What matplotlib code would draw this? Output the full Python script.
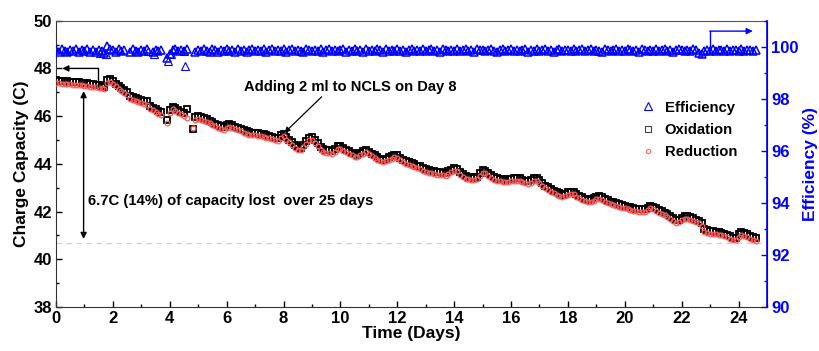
import numpy as np
import matplotlib
matplotlib.use("Agg")
import matplotlib.pyplot as plt
from matplotlib.lines import Line2D
from matplotlib.ticker import MultipleLocator

plt.rcParams['font.family'] = ['Liberation Sans', 'DejaVu Sans']
plt.rcParams['font.weight'] = 'bold'

nan = np.nan

# Sampling times (days), one reading every 0.1 day
days = np.round(np.arange(0, 247) * 0.1, 1)

reduction = [
    47.38, 47.37, 47.36, 47.36, 47.35, 47.33, 47.32, 47.31, 47.30, 47.29,
    47.27, 47.26, 47.24, 47.23, 47.21, 47.18, 47.16, 47.12, 47.40, 47.45,
    47.35, 47.25, 47.15, 47.05, 46.97, 46.90, 46.72, 46.68, 46.64, 46.60,
    46.56, 46.52, 46.45, 46.32, 46.25, 46.18, 46.10, 46.05, nan, 45.72,
    46.15, 46.28, 46.22, 46.15, 46.08, 46.00, 45.93, nan, 45.50, 45.85,
    45.88, 45.84, 45.80, 45.75, 45.70, 45.64, 45.58, 45.52, 45.47, 45.43,
    45.50, 45.55, 45.50, 45.44, 45.40, 45.36, 45.30, 45.25, 45.21, 45.20,
    45.19, 45.18, 45.16, 45.14, 45.10, 45.07, 45.03, 44.99, 44.96, 45.08,
    45.15, 45.02, 44.90, 44.79, 44.68, 44.60, 44.57, 44.70, 44.85, 44.98,
    45.00, 44.88, 44.75, 44.60, 44.50, 44.47, 44.45, 44.43, 44.50, 44.62,
    44.63, 44.55, 44.48, 44.42, 44.36, 44.30, 44.28, 44.35, 44.43, 44.48,
    44.40, 44.32, 44.24, 44.17, 44.10, 44.07, 44.10, 44.16, 44.22, 44.27,
    44.25, 44.15, 44.06, 44.00, 43.97, 43.93, 43.88, 43.82, 43.78, 43.72,
    43.67, 43.62, 43.60, 43.58, 43.55, 43.53, 43.52, 43.51, 43.57, 43.64,
    43.70, 43.68, 43.55, 43.45, 43.38, 43.35, 43.33, 43.31, 43.35, 43.48,
    43.62, 43.60, 43.50, 43.41, 43.33, 43.29, 43.27, 43.25, 43.23, 43.25,
    43.27, 43.29, 43.30, 43.28, 43.23, 43.19, 43.16, 43.20, 43.27, 43.29,
    43.20, 43.08, 42.98, 42.90, 42.83, 42.77, 42.71, 42.65, 42.60, 42.64,
    42.69, 42.73, 42.72, 42.63, 42.55, 42.48, 42.43, 42.39, 42.41, 42.46,
    42.51, 42.53, 42.48, 42.42, 42.36, 42.31, 42.27, 42.24, 42.20, 42.16,
    42.13, 42.10, 42.07, 42.03, 42.01, 42.00, 41.99, 41.98, 42.05, 42.13,
    42.10, 42.03, 41.96, 41.90, 41.85, 41.78, 41.69, 41.60, 41.52, 41.55,
    41.63, 41.69, 41.70, 41.65, 41.60, 41.55, 41.50, 41.38, 41.15, 41.10,
    41.08, 41.07, 41.05, 41.03, 41.00, 40.96, 40.92, 40.86, 40.80, 40.79,
    40.95, 41.02, 40.98, 40.93, 40.87, 40.82, 40.78,
]

oxidation = [
    47.50, 47.49, 47.48, 47.47, 47.46, 47.45, 47.44, 47.43, 47.41, 47.40,
    47.38, 47.37, 47.35, 47.34, 47.32, 47.29, 47.27, 47.24, 47.52, 47.56,
    47.46, 47.36, 47.26, 47.16, 47.08, 47.01, 46.83, 46.79, 46.75, 46.71,
    46.67, 46.63, 46.62, 46.43, 46.36, 46.29, 46.21, 46.16, nan, 45.84,
    46.26, 46.39, 46.33, 46.26, 46.19, 46.12, 46.30, nan, 45.48, 45.96,
    45.99, 45.95, 45.91, 45.86, 45.81, 45.75, 45.69, 45.63, 45.58, 45.54,
    45.61, 45.66, 45.61, 45.55, 45.51, 45.47, 45.41, 45.36, 45.32, 45.31,
    45.30, 45.29, 45.27, 45.25, 45.21, 45.18, 45.14, 45.10, 45.07, 45.19,
    45.27, 45.13, 45.01, 44.90, 44.79, 44.71, 44.68, 44.81, 44.96, 45.10,
    45.12, 44.99, 44.86, 44.71, 44.61, 44.58, 44.56, 44.54, 44.61, 44.73,
    44.75, 44.66, 44.59, 44.53, 44.47, 44.41, 44.39, 44.46, 44.54, 44.60,
    44.51, 44.43, 44.35, 44.28, 44.21, 44.18, 44.21, 44.27, 44.33, 44.39,
    44.36, 44.26, 44.17, 44.11, 44.08, 44.04, 43.99, 43.93, 43.89, 43.83,
    43.78, 43.73, 43.71, 43.69, 43.66, 43.64, 43.63, 43.62, 43.68, 43.76,
    43.82, 43.79, 43.66, 43.56, 43.49, 43.46, 43.44, 43.42, 43.46, 43.60,
    43.74, 43.71, 43.61, 43.52, 43.44, 43.40, 43.38, 43.36, 43.34, 43.36,
    43.38, 43.40, 43.41, 43.39, 43.34, 43.30, 43.27, 43.31, 43.39, 43.40,
    43.31, 43.19, 43.09, 43.01, 42.94, 42.88, 42.82, 42.76, 42.71, 42.75,
    42.81, 42.84, 42.83, 42.74, 42.66, 42.59, 42.54, 42.50, 42.52, 42.57,
    42.62, 42.64, 42.59, 42.53, 42.47, 42.42, 42.38, 42.35, 42.31, 42.27,
    42.24, 42.21, 42.18, 42.14, 42.12, 42.11, 42.10, 42.09, 42.16, 42.25,
    42.21, 42.14, 42.07, 42.01, 41.96, 41.89, 41.80, 41.71, 41.63, 41.66,
    41.74, 41.80, 41.81, 41.76, 41.71, 41.66, 41.61, 41.50, 41.26, 41.21,
    41.19, 41.18, 41.16, 41.14, 41.11, 41.07, 41.03, 40.97, 40.91, 40.90,
    41.06, 41.13, 41.09, 41.04, 40.98, 40.93, 40.88,
]

efficiency = [
    99.86, 99.81, 99.90, 99.84, 99.79, 99.88, 99.83, 99.91, 99.80, 99.86,
    99.84, 99.90, 99.81, 99.87, 99.78, 99.88, 99.85, 99.76, 100.02, 99.90,
    99.86, 99.80, 99.90, 99.83, 99.88, nan, 99.81, 99.91, 99.85, 99.79,
    99.86, 99.83, 99.90, nan, 99.78, 99.87, 99.82, 99.89, nan, 99.55,
    99.74, 99.86, 99.90, 99.83, 99.88, 99.84, 99.90, nan, nan, 99.80,
    99.88, 99.82, 99.91, 99.84, 99.80, 99.90, 99.86, 99.81, 99.89, 99.84,
    99.90, 99.82, 99.87, 99.80, 99.91, 99.84, 99.88, 99.81, 99.86, 99.90,
    99.82, 99.88, 99.84, 99.91, 99.80, 99.86, 99.90, 99.83, 99.88, 99.84,
    99.91, 99.81, 99.86, 99.90, 99.83, 99.88, 99.84, 99.80, 99.90, 99.86,
    99.82, 99.88, 99.84, 99.91, 99.81, 99.86, 99.90, 99.83, 99.88, 99.84,
    99.86, 99.90, 99.81, 99.88, 99.84, 99.91, 99.82, 99.86, 99.80, 99.90,
    99.84, 99.88, 99.82, 99.90, 99.86, 99.81, 99.91, 99.84, 99.88, 99.82,
    99.90, 99.84, 99.88, 99.80, 99.86, 99.91, 99.82, 99.88, 99.84, 99.90,
    99.82, 99.86, 99.90, 99.84, 99.88, 99.81, 99.91, 99.86, 99.82, 99.88,
    99.84, 99.90, 99.82, 99.86, 99.91, 99.84, 99.88, 99.81, 99.90, 99.86,
    99.88, 99.82, 99.86, 99.90, 99.84, 99.80, 99.88, 99.91, 99.82, 99.86,
    99.90, 99.84, 99.88, 99.82, 99.86, 99.91, 99.81, 99.88, 99.84, 99.90,
    99.82, 99.86, 99.90, 99.84, 99.88, 99.81, 99.86, 99.91, 99.84, 99.88,
    99.86, 99.82, 99.90, 99.84, 99.88, 99.91, 99.82, 99.86, 99.90, 99.84,
    99.88, 99.84, 99.81, 99.90, 99.86, 99.82, 99.88, 99.91, 99.84, 99.86,
    99.82, 99.90, 99.86, 99.84, 99.88, 99.81, 99.90, 99.86, 99.82, 99.88,
    99.84, 99.91, 99.82, 99.86, 99.90, 99.84, 99.88, 99.81, 99.86, 99.90,
    99.86, 99.82, 99.88, 99.84, 99.90, 99.86, 99.77, 99.74, 99.82, 99.88,
    99.84, 99.90, 99.82, 99.86, 99.88, 99.84, 99.90, 99.82, 99.86, 99.88,
    99.84, 99.90, 99.82, 99.86, 99.88, 99.84, 99.86,
]

# Stray efficiency readings during the first days
eff_extra_days = [1.55, 1.75, 3.25, 3.45, 3.95, 4.05, 4.55, 4.5]
eff_extra_vals = [99.75, 99.72, 99.82, 99.72, 99.45, 99.74, 99.27, 99.84]

capacity_floor = 40.7

fig = plt.figure(figsize=(8.19, 3.51), dpi=100)
ax = fig.add_axes([0.0684, 0.1254, 0.8681, 0.8156])
ax2 = ax.twinx()

blue = '#0000ff'
red = '#ff5a5a'

ax.axhline(capacity_floor, color='#cfcfcf', lw=0.8, ls=(0, (5, 4)), zorder=1)

ax.plot(days, oxidation, ls='none', marker='s', ms=5.0, mfc='none',
        mec='black', mew=1.3, zorder=3)
ax.plot(days, reduction, ls='none', marker='o', ms=3.4, mfc='none',
        mec=red, mew=0.9, zorder=4)

ax2.plot(days, efficiency, ls='none', marker='^', ms=6.0, mfc='none',
         mec=blue, mew=1.1, zorder=3)
ax2.plot(eff_extra_days, eff_extra_vals, ls='none', marker='^', ms=5.5,
         mfc='none', mec=blue, mew=0.8, zorder=3)

ax.set_xlim(0, 25)
ax.set_ylim(38, 50)
ax2.set_ylim(90, 101)

ax.xaxis.set_major_locator(MultipleLocator(2))
ax.xaxis.set_minor_locator(MultipleLocator(1))
ax.yaxis.set_major_locator(MultipleLocator(2))
ax.yaxis.set_minor_locator(MultipleLocator(1))
ax2.yaxis.set_major_locator(MultipleLocator(2))
ax2.yaxis.set_minor_locator(MultipleLocator(1))

ax.tick_params(axis='both', which='major', direction='in', length=4,
               width=1, labelsize=12, pad=3)
ax.tick_params(axis='both', which='minor', direction='in', length=2.5, width=1)
ax.tick_params(axis='y', right=False)
ax.tick_params(axis='x', top=False)
ax2.tick_params(axis='y', which='major', direction='in', length=4, width=1,
                colors=blue, labelsize=12, pad=3)
ax2.tick_params(axis='y', which='minor', direction='in', length=2.5, width=1,
                colors=blue)

for lab in ax.get_xticklabels() + ax.get_yticklabels() + ax2.get_yticklabels():
    lab.set_fontweight('bold')

for side in ('left', 'bottom'):
    ax.spines[side].set_color('#333333')
ax.spines['top'].set_color('#555555')
ax2.spines['right'].set_color(blue)
ax2.spines['right'].set_linewidth(1.2)
ax2.spines['top'].set_visible(False)
ax2.spines['left'].set_visible(False)
ax2.spines['bottom'].set_visible(False)

ax.set_xlabel('Time (Days)', fontsize=12.5, fontweight='bold', labelpad=0)
ax.set_ylabel('Charge Capacity (C)', fontsize=12.5, fontweight='bold', labelpad=3)
ax2.set_ylabel('Efficiency (%)', fontsize=12.5, fontweight='bold', color=blue,
               labelpad=3)

# Arrow pointing the capacity series to the left axis
ax.plot([1.47, 1.47], [47.28, 48.0], color='black', lw=1, zorder=5)
ax.annotate('', xy=(0.22, 48.0), xytext=(1.48, 48.0),
            arrowprops=dict(arrowstyle='-|>', color='black', lw=1,
                            mutation_scale=9, shrinkA=0, shrinkB=0))

# Arrow pointing the efficiency series to the right axis
ax2.plot([23.0, 23.0], [99.9, 100.6], color=blue, lw=1, zorder=5)
ax2.annotate('', xy=(24.5, 100.6), xytext=(22.99, 100.6),
             arrowprops=dict(arrowstyle='-|>', color=blue, lw=1,
                             mutation_scale=9, shrinkA=0, shrinkB=0))

# Total capacity loss
ax.annotate('', xy=(0.97, 40.85), xytext=(0.97, 47.05),
            arrowprops=dict(arrowstyle='<|-|>', color='black', lw=1,
                            mutation_scale=9, shrinkA=0, shrinkB=0))
ax.text(1.12, 42.44, '6.7C (14%) of capacity lost  over 25 days',
        fontsize=10.7, fontweight='bold', va='center', ha='left')

ax.annotate('Adding 2 ml to NCLS on Day 8', xy=(8.03, 45.3),
            xytext=(6.6, 47.22), fontsize=10.6, fontweight='bold',
            va='center', ha='left',
            arrowprops=dict(arrowstyle='-|>', color='black', lw=0.9,
                            mutation_scale=8, shrinkA=0, shrinkB=0,
                            relpos=(0.38, 0.0)))

handles = [
    Line2D([], [], ls='none', marker='^', ms=5.5, mfc='none', mec=blue, mew=0.8),
    Line2D([], [], ls='none', marker='s', ms=4.6, mfc='none', mec='#444444', mew=0.8),
    Line2D([], [], ls='none', marker='o', ms=3.2, mfc='none', mec=red, mew=0.7),
]
ax2.legend(handles, ['Efficiency', 'Oxidation', 'Reduction'],
           loc='upper left', bbox_to_anchor=(0.779, 0.722),
           bbox_transform=fig.transFigure, frameon=False,
           handlelength=1.0, handletextpad=0.6, borderpad=0.2,
           borderaxespad=0, labelspacing=0.55,
           prop=dict(weight='bold', size=10.7))

fig.savefig('out.png', dpi=100)
